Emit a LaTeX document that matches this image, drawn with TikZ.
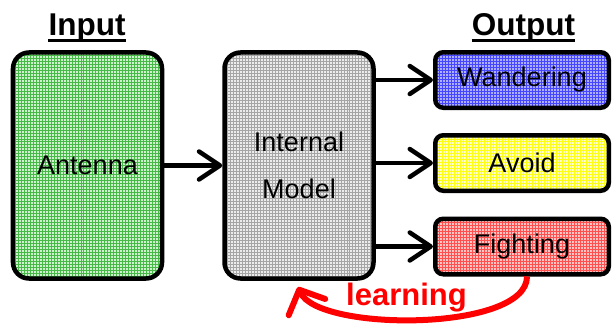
\documentclass[tikz,border=0pt]{standalone}
\usepackage{fontspec}
\setmainfont{Liberation Sans}
\usetikzlibrary{
    arrows.meta,
    patterns,
    positioning
}
\definecolor{learnred}{RGB}{255,0,0}
\definecolor{antfill}{RGB}{205,242,205}
\definecolor{antgrid}{RGB}{70,185,70}
\definecolor{modfill}{RGB}{236,236,236}
\definecolor{modgrid}{RGB}{165,165,165}
\definecolor{wanfill}{RGB}{175,175,255}
\definecolor{wangrid}{RGB}{70,70,255}
\definecolor{avofill}{RGB}{255,255,195}
\definecolor{avogrid}{RGB}{255,255,20}
\definecolor{figfill}{RGB}{255,195,195}
\definecolor{figgrid}{RGB}{255,80,80}

\begin{document}
\begin{tikzpicture}[
    x=1bp, y=1bp,
    box/.style={
        rectangle, draw, line width=4.5bp,
        align=center, inner sep=0pt,
        font=\fontsize{27bp}{47bp}\selectfont
    },
    bigbox/.style={box, rounded corners=16bp, minimum width=149bp, minimum height=226bp},
    outbox/.style={box, rounded corners=8bp, minimum width=173.5bp, minimum height=55.5bp},
    title/.style={inner sep=0pt, anchor=base, font=\fontsize{31.5bp}{38bp}\selectfont\bfseries},
    uline/.style={line width=3bp},
    arrow/.style={-{Straight Barb[length=21bp, width=28bp, round]}, line width=4.5bp},
    learnarrow/.style={-{Straight Barb[length=19bp, width=40bp, round]}, line width=6bp, learnred}
]
\useasboundingbox (0,0) rectangle (612,327);

% Titles (underlined)
\node[title] (input) at (87,292) {Input};
\node[title] (output) at (523.5,292) {Output};
\draw[uline] ([yshift=-5bp]input.base west) -- ([yshift=-5bp]input.base east);
\draw[uline] ([yshift=-5bp]output.base west) -- ([yshift=-5bp]output.base east);

% Input and model
\node[bigbox, preaction={fill=antfill}, pattern=grid, pattern color=antgrid] (antenna) at (87.5,161.5) {Antenna};
\node[bigbox, preaction={fill=modfill}, pattern=grid, pattern color=modgrid] (model) at (299,161.5) {Internal\\Model};

% Output behaviours
\node[outbox, preaction={fill=wanfill}, pattern=grid, pattern color=wangrid] (wander) at (522,247) {Wandering};
\node[outbox, preaction={fill=avofill}, pattern=grid, pattern color=avogrid] (avoid) at (522,164) {Avoid};
\node[outbox, preaction={fill=figfill}, pattern=grid, pattern color=figgrid] (fight) at (522,80.5) {Fighting};

% Main flow arrows
\draw[arrow] (antenna) -- (model);
\draw[arrow] (model.east |- wander.west) -- (wander.west);
\draw[arrow] (model.east |- avoid.west) -- (avoid.west);
\draw[arrow] (model.east |- fight.west) -- (fight.west);

% Learning loop
\coordinate (learntip) at (298,40);
\draw[learnarrow] ([xshift=5bp]fight.south) .. controls (527,-5) and (318,-5) .. (learntip);
\node[text=learnred, anchor=base, font=\fontsize{31bp}{37bp}\selectfont\bfseries] (learnlbl) at (406.5,22) {learning};

\end{tikzpicture}
\end{document}
